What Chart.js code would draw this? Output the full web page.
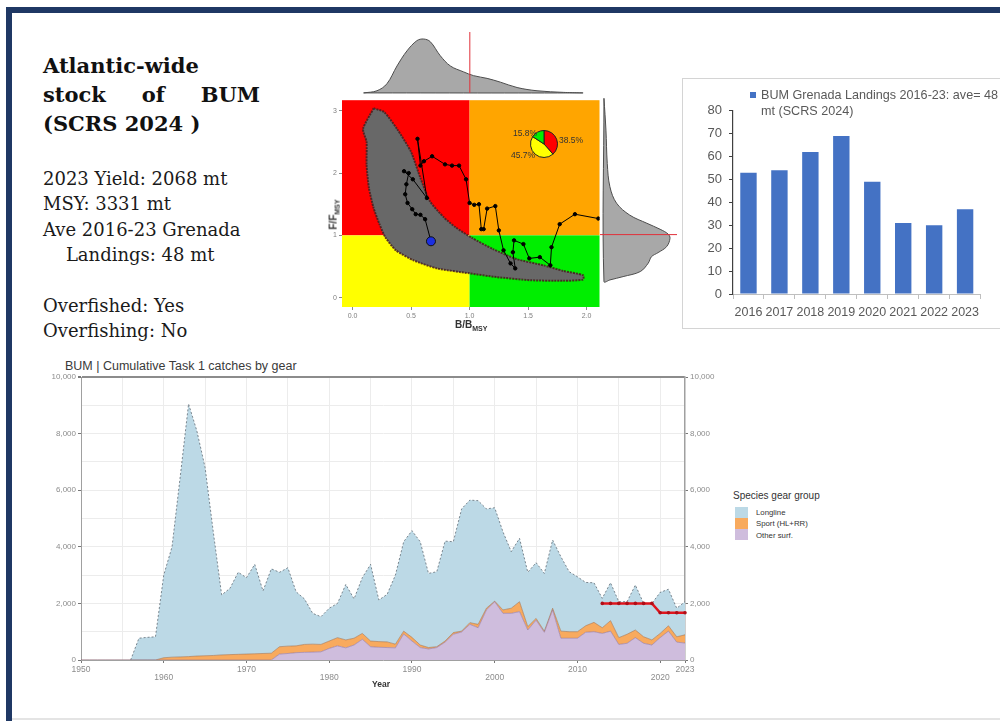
<!DOCTYPE html>
<html>
<head>
<meta charset="utf-8">
<title>Atlantic-wide stock of BUM</title>
<script src="https://cdn.jsdelivr.net/npm/chart.js@4.4.1/dist/chart.umd.min.js"></script>
<style>
  body { margin:0; width:1000px; height:721px; overflow:hidden; position:relative; background:#fff; font-family:"Liberation Sans", Arial, sans-serif; }
  .abs { position:absolute; }
  canvas { position:absolute; }
  .frame { position:absolute; background:#1f3864; }
  .heading { left:43px; top:51px; width:217px; font:bold 21px "DejaVu Serif", serif; line-height:29px; color:#111; }
  .facts { left:43px; top:166px; font:18px "DejaVu Serif", serif; line-height:25.4px; color:#1a1a1a; white-space:pre; }
  .pielab { font-size:8.5px; color:#333; }
  .axt { font-size:10px; font-weight:bold; color:#333; white-space:nowrap; }
  .axt sub { font-size:7px; }
  .barbox { left:682px; top:78px; width:330px; height:249px; border:1px solid #d4d4d4; }
  .barlegend { left:749px; top:87px; font-size:12.6px; line-height:16px; color:#595959; padding-left:12px; white-space:nowrap; }
  .barlegend i { position:absolute; left:1px; top:5px; width:6px; height:6px; background:#4472c4; }
  .lgd { font-size:7.8px; color:#333; }
  .sw { position:absolute; width:13px; height:11px; }
</style>
</head>
<body>
<div class="frame" style="left:6px;top:7px;width:994px;height:6px"></div>
<div class="frame" style="left:6px;top:7px;width:6px;height:714px"></div>
<div class="abs" style="left:12px;top:718px;width:988px;height:2px;background:#e4e4e4"></div>

<div class="abs heading">
  <div>Atlantic-wide</div>
  <div style="display:flex;justify-content:space-between"><span>stock</span><span>of</span><span>BUM</span></div>
  <div>(SCRS 2024 )</div>
</div>
<div class="abs facts">2023 Yield: 2068 mt
MSY: 3331 mt
Ave 2016-23 Grenada
    Landings: 48 mt

Overfished: Yes
Overfishing: No</div>

<canvas id="topDens" width="258" height="62" style="left:342px;top:32px"></canvas>
<canvas id="kobe" width="285" height="243" style="left:320px;top:94px"></canvas>
<canvas id="rightDens" width="77" height="209" style="left:600px;top:98px"></canvas>
<canvas id="pie" width="28" height="28" style="left:530px;top:130px"></canvas>
<div class="abs pielab" style="left:513px;top:128px">15.8%</div>
<div class="abs pielab" style="left:559px;top:135px">38.5%</div>
<div class="abs pielab" style="left:511px;top:150px">45.7%</div>
<div class="abs axt" style="left:455px;top:319px">B/B<sub>MSY</sub></div>
<div class="abs axt" style="left:319px;top:208px;transform:rotate(-90deg)">F/F<sub>MSY</sub></div>

<div class="abs barbox"></div>
<canvas id="bars" width="295" height="229" style="left:690px;top:96px"></canvas>
<div class="abs barlegend"><i></i>BUM Grenada Landings 2016-23: ave= 48<br>mt (SCRS 2024)</div>

<div class="abs" style="left:65px;top:359px;font-size:12.5px;color:#3a3a3a">BUM | Cumulative Task 1 catches by gear</div>
<canvas id="catches" width="680" height="335" style="left:40px;top:360px"></canvas>
<div class="abs" style="left:372px;top:679px;font-size:8.5px;font-weight:bold;color:#333">Year</div>
<div class="abs" style="left:733px;top:490px;font-size:10px;color:#333">Species gear group</div>
<div class="sw" style="left:735px;top:507px;background:#bcd9e6"></div>
<div class="sw" style="left:735px;top:518px;background:#f8aa5e"></div>
<div class="sw" style="left:735px;top:529px;background:#cfbddd"></div>
<div class="abs lgd" style="left:756px;top:508px">Longline</div>
<div class="abs lgd" style="left:756px;top:519px">Sport (HL+RR)</div>
<div class="abs lgd" style="left:756px;top:531px">Other surf.</div>

<script>
// Kobe plot: trajectory of B/Bmsy and F/Fmsy
var kobeB = [2.10,1.90,1.77,1.70,1.69,1.60,1.51,1.46,1.38,1.37,1.39,1.35,1.29,1.25,1.22,1.15,1.12,1.10,1.08,1.04,1.00,0.97,0.91,0.85,0.79,0.68,0.61,0.58,0.555,0.635,0.515,0.44,0.48,0.46,0.45,0.47,0.51,0.54,0.58,0.62,0.67];
var kobeF = [1.27,1.34,1.18,0.81,0.52,0.65,0.63,0.86,0.92,0.73,0.47,0.55,0.76,1.08,1.47,1.43,1.10,1.10,1.50,1.49,1.52,1.90,2.12,2.12,2.14,2.27,2.19,2.12,2.55,1.60,1.90,2.03,2.00,1.82,1.66,1.52,1.42,1.34,1.33,1.26,0.905];
var lastB = [0.67];
var lastF = [0.905];

// outline of the uncertainty cloud
var cloudB = [0.18,0.09,0.12,0.12,0.14,0.18,0.23,0.28,0.37,0.52,0.72,1.00,1.23,1.52,1.80,1.97,1.97,1.80,1.63,1.40,1.20,1.02,0.88,0.78,0.66,0.58,0.50,0.38,0.27,0.18];
var cloudF = [3.04,2.71,2.50,2.13,1.76,1.44,1.18,0.97,0.76,0.60,0.47,0.39,0.33,0.28,0.27,0.29,0.36,0.43,0.52,0.62,0.78,0.96,1.13,1.29,1.55,1.92,2.34,2.71,2.98,3.04];

// marginal densities
var densB = [0.094,0.208,0.293,0.379,0.464,0.549,0.606,0.663,0.748,0.834,0.947,1.032,1.147,1.26,1.403,1.573,1.80,1.957];
var densOfB = [0,0.04,0.17,0.5,0.78,0.97,1.0,0.95,0.69,0.5,0.39,0.32,0.27,0.2,0.1,0.04,0.01,0];
var densF = [3.165,2.66,2.13,1.76,1.50,1.31,1.18,1.085,1.01,0.943,0.81,0.714,0.65,0.546,0.413,0.333,0.28,0.254];
var densOfF = [0,0.03,0.05,0.09,0.19,0.39,0.65,0.85,0.97,1.0,0.95,0.82,0.72,0.67,0.55,0.29,0.09,0];

var pieLabels = ['Overfished and overfishing','Overfished','Not overfished'];
var pieValues = [38.5, 45.7, 15.8];

// Grenada landings (mt)
var barYears = ['2016','2017','2018','2019','2020','2021','2022','2023'];
var landings = [53, 54, 62, 69, 49, 31, 30, 37];

// Task 1 catches by gear (t)
var catchYears = [1950,1951,1952,1953,1954,1955,1956,1957,1958,1959,1960,1961,1962,1963,1964,1965,1966,1967,1968,1969,
  1970,1971,1972,1973,1974,1975,1976,1977,1978,1979,1980,1981,1982,1983,1984,1985,1986,1987,1988,1989,
  1990,1991,1992,1993,1994,1995,1996,1997,1998,1999,2000,2001,2002,2003,2004,2005,2006,2007,2008,2009,
  2010,2011,2012,2013,2014,2015,2016,2017,2018,2019,2020,2021,2022,2023];
var otherSurf = [0,0,0,0,0,0,0,0,0,0,0,0,0,0,0,0,0,0,0,0,
  0,0,0,0,210,230,260,270,280,290,410,500,430,530,730,470,450,440,430,920,
  670,440,390,440,630,910,990,1260,1140,1770,2060,1650,1650,1710,1060,1410,980,1770,770,770,
  770,980,1000,940,1020,550,590,790,590,530,790,1020,630,600];
var sport = [0,0,0,0,0,0,0,0,0,0,80,100,110,120,140,150,160,180,190,200,
  210,220,230,240,260,260,240,280,280,260,260,290,280,240,210,200,200,200,130,100,
  130,90,50,30,40,60,30,60,120,60,20,120,180,350,120,60,40,60,250,230,
  230,230,330,200,370,240,320,270,230,180,150,190,190,290];
var longline = [null,null,null,null,null,null,0,770,800,820,2920,3900,6390,8930,7960,6650,4340,2120,2340,2900,
  2700,3160,2210,2980,2630,2770,1910,1610,1090,980,1160,1210,1960,1390,1970,2710,1470,1680,2440,3160,
  3770,3650,2620,2650,3530,3210,4320,4330,4370,3510,3300,2760,2000,2240,1920,1970,2040,2410,2630,2120,
  1940,1530,1400,1040,1340,1270,1150,1590,1180,1290,1450,1290,1010,1170];
var tac = [null,null,null,null,null,null,null,null,null,null,null,null,null,null,null,null,null,null,null,null,
  null,null,null,null,null,null,null,null,null,null,null,null,null,null,null,null,null,null,null,null,
  null,null,null,null,null,null,null,null,null,null,null,null,null,null,null,null,null,null,null,null,
  null,null,null,2000,2000,2000,2000,2000,2000,2000,1670,1670,1670,1670];

Chart.defaults.font.family = "'Liberation Sans', Arial, sans-serif";
Chart.defaults.animation = false;
Chart.defaults.responsive = false;
Chart.defaults.plugins.legend.display = false;
Chart.defaults.plugins.tooltip.enabled = false;

function pairs(xs, ys) {
  return xs.map(function(x, i){ return {x: x, y: ys[i]}; });
}

// coloured quadrants behind the Kobe points
var quadrants = {
  id: 'quadrants',
  beforeDatasetsDraw: function(chart) {
    var ctx = chart.ctx, a = chart.chartArea;
    var x1 = chart.scales.x.getPixelForValue(1);
    var y1 = chart.scales.y.getPixelForValue(1);
    ctx.save();
    ctx.fillStyle = '#ff0000'; ctx.fillRect(a.left, a.top, x1 - a.left, y1 - a.top);
    ctx.fillStyle = '#ffa500'; ctx.fillRect(x1, a.top, a.right - x1, y1 - a.top);
    ctx.fillStyle = '#ffff00'; ctx.fillRect(a.left, y1, x1 - a.left, a.bottom - y1);
    ctx.fillStyle = '#00ee00'; ctx.fillRect(x1, y1, a.right - x1, a.bottom - y1);
    ctx.restore();
  }
};

var kobe = new Chart(document.getElementById('kobe'), {
  type: 'line',
  plugins: [quadrants],
  data: {
    datasets: [
      {data: pairs(lastB, lastF), showLine: false, pointRadius: 4.5, pointBackgroundColor: '#1b2fe0', pointBorderColor: '#111', pointBorderWidth: 1},
      {data: pairs(kobeB, kobeF), borderColor: '#000', borderWidth: 1, pointRadius: 1.7, pointBackgroundColor: '#000', pointBorderColor: '#000', tension: 0},
      {data: pairs(cloudB, cloudF), borderColor: 'rgba(70,30,30,0.85)', borderWidth: 2, borderDash: [2, 1], backgroundColor: '#686868', fill: 'shape', pointRadius: 0, tension: 0.2}
    ]
  },
  options: {
    layout: {padding: {top: 4, right: 0, left: 0, bottom: 0}},
    scales: {
      x: {type: 'linear', min: -0.09, max: 2.11,
        ticks: {stepSize: 0.5, includeBounds: false, font: {size: 7}, color: '#7f7f7f', padding: 2,
          callback: function(v){ return v.toFixed(1); }},
        grid: {drawOnChartArea: false, tickLength: 3, color: '#8a8a8a'},
        border: {display: false},
        afterFit: function(s){ s.height = 30; }},
      y: {type: 'linear', min: -0.15, max: 3.17,
        ticks: {stepSize: 1, includeBounds: false, font: {size: 7}, color: '#7f7f7f', padding: 2},
        grid: {drawOnChartArea: false, tickLength: 3, color: '#8a8a8a'},
        border: {display: false},
        afterFit: function(s){ s.width = 22; }}
    }
  }
});

var topDensPts = pairs(densB, densOfB);
topDensPts.push({x: densB[0], y: 0});
new Chart(document.getElementById('topDens'), {
  type: 'line',
  data: {
    datasets: [
      {data: [{x: 1, y: 0}, {x: 1, y: 1.15}], borderColor: '#e0303a', borderWidth: 1, pointRadius: 0},
      {data: topDensPts, borderColor: '#4d4d4d', borderWidth: 1, backgroundColor: '#a8a8a8', fill: 'shape', pointRadius: 0, tension: 0.35}
    ]
  },
  options: {
    layout: {padding: 0},
    scales: {
      x: {type: 'linear', min: -0.09, max: 2.11, display: false},
      y: {type: 'linear', min: -0.02, max: 1.13, display: false}
    }
  }
});

var rightDensPts = pairs(densOfF, densF);
rightDensPts.push({x: 0, y: densF[0]});
new Chart(document.getElementById('rightDens'), {
  type: 'line',
  data: {
    datasets: [
      {data: [{x: -0.06, y: 1}, {x: 1.106, y: 1}], borderColor: '#e0303a', borderWidth: 1, pointRadius: 0},
      {data: rightDensPts, borderColor: '#4d4d4d', borderWidth: 1, backgroundColor: '#a8a8a8', fill: 'shape', pointRadius: 0, tension: 0.35}
    ]
  },
  options: {
    layout: {padding: 0},
    scales: {
      x: {type: 'linear', min: -0.06, max: 1.106, display: false},
      y: {type: 'linear', min: -0.15, max: 3.17, display: false}
    }
  }
});

new Chart(document.getElementById('pie'), {
  type: 'pie',
  data: {
    labels: pieLabels,
    datasets: [{data: pieValues, backgroundColor: ['#ff0000', '#ffff00', '#00ee00'], borderColor: '#222', borderWidth: 1}]
  },
  options: {layout: {padding: 0}}
});

new Chart(document.getElementById('bars'), {
  type: 'bar',
  data: {
    labels: barYears,
    datasets: [{label: 'BUM Grenada Landings 2016-23: ave= 48 mt (SCRS 2024)', data: landings,
      backgroundColor: '#4472c4', barPercentage: 0.53, categoryPercentage: 1}]
  },
  options: {
    layout: {padding: {top: 7, right: 0, left: 0, bottom: 0}},
    scales: {
      x: {ticks: {autoSkip: false, maxRotation: 0, color: '#595959', font: {size: 12.5}, padding: 6},
        grid: {drawOnChartArea: false, offset: true, tickLength: 5, color: '#bfbfbf'},
        border: {color: '#bfbfbf'},
        afterFit: function(s){ s.height = 31; }},
      y: {min: 0, max: 80,
        ticks: {stepSize: 10, color: '#595959', font: {size: 13}, padding: 7},
        grid: {drawOnChartArea: false, tickLength: 4, color: '#404040'},
        border: {color: '#404040', width: 1.2},
        afterFit: function(s){ s.width = 43; }}
    }
  }
});

function yearLabel(i) {
  var yr = catchYears[i];
  if (yr === 2023) return String(yr);
  if (yr % 10 !== 0) return '';
  return ((yr - 1950) / 10) % 2 === 0 ? String(yr) : ['', String(yr)];
}

new Chart(document.getElementById('catches'), {
  type: 'line',
  data: {
    labels: catchYears,
    datasets: [
      {label: 'TAC', data: tac, yAxisID: 'y2', borderColor: '#e0141c', borderWidth: 2.5,
        pointRadius: 1.8, pointBorderWidth: 0, pointBackgroundColor: '#b00d16'},
      {label: 'Other surf.', data: otherSurf, yAxisID: 'y', backgroundColor: '#cfbddd', fill: 'origin',
        borderColor: 'rgba(140,110,150,0.7)', borderWidth: 0.8, pointRadius: 0},
      {label: 'Sport (HL+RR)', data: sport, yAxisID: 'y', backgroundColor: '#f8aa5e', fill: '-1',
        borderColor: 'rgba(150,110,80,0.7)', borderWidth: 0.8, pointRadius: 0},
      {label: 'Longline', data: longline, yAxisID: 'y', backgroundColor: '#bcd9e6', fill: '-1',
        borderColor: 'rgba(90,100,110,0.75)', borderWidth: 1, borderDash: [2, 2], pointRadius: 0}
    ]
  },
  options: {
    layout: {padding: {top: 17, right: 0, left: 0, bottom: 0}},
    elements: {line: {tension: 0}},
    scales: {
      x: {
        ticks: {autoSkip: false, maxRotation: 0, color: '#8c8c8c', font: {size: 8.5, lineHeight: 1}, padding: 2,
          callback: function(v, i){ return yearLabel(i); }},
        grid: {
          color: function(c){ return catchYears[c.index] % 5 === 0 ? '#ececec' : 'rgba(0,0,0,0)'; },
          tickColor: function(c){ return yearLabel(c.index) !== '' ? '#777' : 'rgba(0,0,0,0)'; },
          tickLength: 3},
        border: {color: '#a0a0a0'},
        afterFit: function(s){ s.height = 35; }},
      y: {position: 'left', stacked: true, min: 0, max: 10000,
        ticks: {stepSize: 1000, color: '#8c8c8c', font: {size: 8}, padding: 2,
          callback: function(v){ return v % 2000 === 0 ? v.toLocaleString('en-US') : ''; }},
        grid: {
          color: function(c){ return c.tick.value === 10000 ? '#8c8c8c' : '#ececec'; },
          lineWidth: function(c){ return c.tick.value === 10000 ? 2 : 1; },
          tickColor: function(c){ return c.tick.value % 2000 === 0 ? '#777' : 'rgba(0,0,0,0)'; },
          tickLength: 3},
        border: {color: '#a0a0a0'},
        afterFit: function(s){ s.width = 41; }},
      y2: {position: 'right', min: 0, max: 10000,
        ticks: {stepSize: 2000, color: '#8c8c8c', font: {size: 8}, padding: 2,
          callback: function(v){ return v.toLocaleString('en-US'); }},
        grid: {drawOnChartArea: false, tickLength: 3, color: '#777'},
        border: {color: '#a0a0a0', width: 1.5},
        afterFit: function(s){ s.width = 35; }}
    }
  }
});
</script>
</body>
</html>
